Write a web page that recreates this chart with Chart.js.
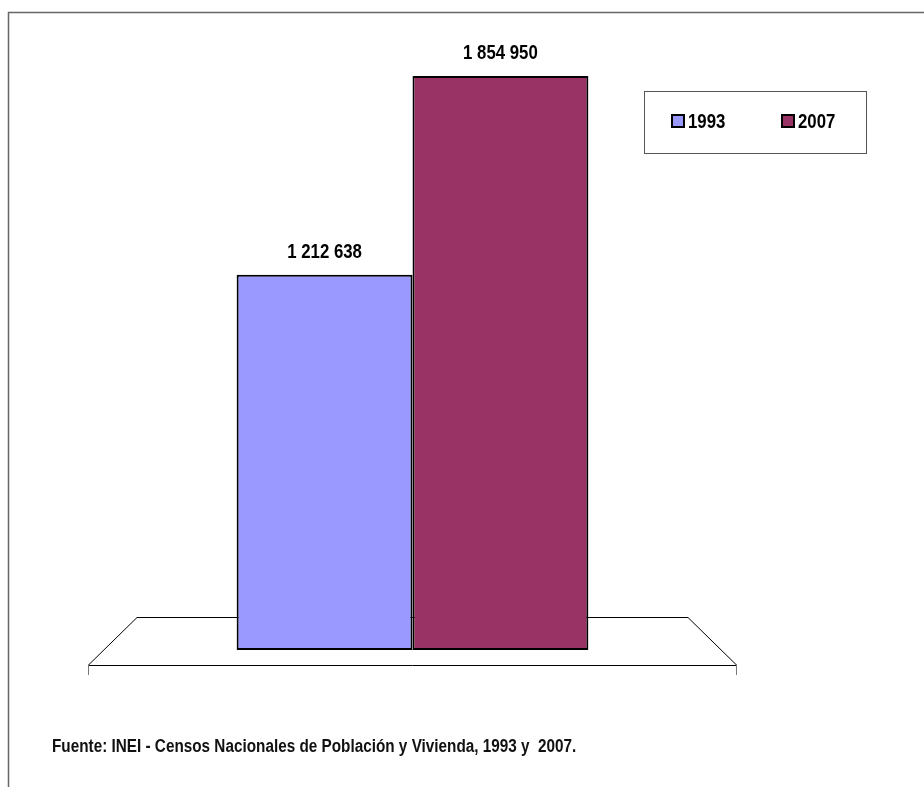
<!DOCTYPE html>
<html>
<head>
<meta charset="utf-8">
<script src="https://cdn.jsdelivr.net/npm/chart.js@4"></script>
<style>
  html, body { margin: 0; padding: 0; background: #fff; }
  #wrap { width: 924px; height: 787px; position: relative; }
</style>
</head>
<body>
<div id="wrap"><canvas id="c" width="924" height="787"></canvas></div>
<script>
const categories = ['Población'];
const seriesLabels = ['1993', '2007'];
const values1993 = [1212638];
const values2007 = [1854950];
const seriesColors = ['#9999FF', '#993366'];
const sourceText = 'Fuente: INEI - Censos Nacionales de Población y Vivienda, 1993 y  2007.';
const FONT = "'Liberation Sans Narrow', 'Arial Narrow', 'Liberation Sans', Arial, sans-serif";
const NARROW = 0.84;

function fmt(v) {
  return String(v).replace(/\B(?=(\d{3})+(?!\d))/g, ' ');
}

// draw text horizontally condensed to imitate Arial Narrow
function narrowText(ctx, text, x, y, align, k) {
  ctx.save();
  ctx.translate(x, y);
  ctx.scale(k || NARROW, 1);
  ctx.textAlign = align;
  ctx.fillText(text, 0, 0);
  ctx.restore();
}

const framePlugin = {
  id: 'frame',
  beforeDraw(chart) {
    const ctx = chart.ctx;
    ctx.save();
    ctx.fillStyle = '#fff';
    ctx.fillRect(0, 0, chart.width, chart.height);
    ctx.strokeStyle = '#666';
    ctx.lineWidth = 1.5;
    ctx.strokeRect(8.5, 12.5, 1200, 1200);
    ctx.restore();
  }
};

const floorPlugin = {
  id: 'floor',
  beforeDatasetsDraw(chart) {
    const ctx = chart.ctx;
    const a = chart.chartArea;
    const depthY = 48, depthX = 49;
    const front = a.bottom + 15;
    const back = front - depthY;
    ctx.save();
    ctx.strokeStyle = '#000';
    ctx.lineWidth = 1;
    ctx.beginPath();
    ctx.moveTo(a.left, front + 0.5);
    ctx.lineTo(a.left + depthX, back + 0.5);
    ctx.lineTo(a.right - depthX, back + 0.5);
    ctx.lineTo(a.right, front + 0.5);
    ctx.closePath();
    ctx.stroke();
    ctx.strokeStyle = '#777';
    ctx.beginPath();
    ctx.moveTo(a.left + 0.5, front);
    ctx.lineTo(a.left + 0.5, front + 10);
    ctx.moveTo(a.right - 0.5, front);
    ctx.lineTo(a.right - 0.5, front + 10);
    ctx.stroke();
    ctx.restore();
  }
};

const labelPlugin = {
  id: 'labels',
  afterDatasetsDraw(chart) {
    const ctx = chart.ctx;
    ctx.save();
    ctx.font = 'bold 20px ' + FONT;
    ctx.fillStyle = '#000';
    ctx.textBaseline = 'middle';
    chart.data.datasets.forEach((ds, i) => {
      const meta = chart.getDatasetMeta(i);
      meta.data.forEach((bar, j) => {
        narrowText(ctx, fmt(ds.data[j]), bar.x, bar.y - 22, 'center');
      });
    });
    ctx.restore();
  },
  afterDraw(chart) {
    const ctx = chart.ctx;
    ctx.save();
    // legend
    const lx = 644, ly = 91, lw = 222, lh = 62;
    ctx.strokeStyle = '#555';
    ctx.lineWidth = 1;
    ctx.strokeRect(lx + 0.5, ly + 0.5, lw, lh);
    const itemX = [672, 782];
    ctx.font = 'bold 20px ' + FONT;
    ctx.textBaseline = 'middle';
    chart.data.datasets.forEach((ds, i) => {
      const x = itemX[i], y = 115;
      ctx.fillStyle = ds.backgroundColor;
      ctx.fillRect(x, y, 12, 12);
      ctx.strokeStyle = '#000';
      ctx.lineWidth = 2;
      ctx.strokeRect(x, y, 12, 12);
      ctx.fillStyle = '#000';
      narrowText(ctx, ds.label, x + 16, y + 7, 'left');
    });
    // source
    ctx.font = 'bold 18px ' + FONT;
    ctx.fillStyle = '#111';
    narrowText(ctx, sourceText, 52, 747, 'left', 0.85);
    ctx.restore();
  }
};

new Chart(document.getElementById('c'), {
  type: 'bar',
  data: {
    labels: categories,
    datasets: [
      { label: seriesLabels[0], data: values1993, backgroundColor: seriesColors[0], borderColor: '#000', borderWidth: 2, borderSkipped: false },
      { label: seriesLabels[1], data: values2007, backgroundColor: seriesColors[1], borderColor: '#000', borderWidth: 2, borderSkipped: false }
    ]
  },
  options: {
    responsive: false,
    animation: false,
    devicePixelRatio: 1,
    layout: { padding: { left: 88, right: 187, top: 31, bottom: 137 } },
    datasets: { bar: { categoryPercentage: 0.542, barPercentage: 1.0 } },
    scales: {
      x: { display: false },
      y: { display: false, min: 0, max: 2000000 }
    },
    plugins: { legend: { display: false }, tooltip: { enabled: false } }
  },
  plugins: [framePlugin, floorPlugin, labelPlugin]
});
</script>
</body>
</html>
